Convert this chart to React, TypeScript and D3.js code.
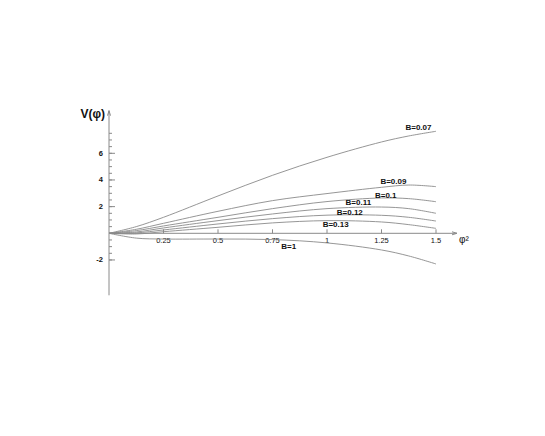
import React from "react";
import * as d3 from "d3";

const phi2 = [0, 0.125, 0.25, 0.5, 0.75, 1.0, 1.25, 1.375, 1.5];
const b007 = [0, 0.5, 1.2, 2.8, 4.35, 5.7, 6.85, 7.3, 7.65];
const b009 = [0, 0.3, 0.75, 1.65, 2.45, 2.98, 3.45, 3.62, 3.5];
const b010 = [0, 0.2, 0.55, 1.2, 1.85, 2.38, 2.65, 2.6, 2.37];
const b011 = [0, 0.1, 0.4, 0.95, 1.45, 1.85, 1.97, 1.85, 1.5];
const b012 = [0, 0.03, 0.25, 0.7, 1.1, 1.36, 1.35, 1.2, 0.92];
const b013 = [0, -0.05, 0.12, 0.45, 0.78, 0.95, 0.85, 0.65, 0.37];
const b1 = [0, -0.36, -0.43, -0.43, -0.47, -0.72, -1.25, -1.7, -2.3];

const seriesLabels = ["B=0.07", "B=0.09", "B=0.1", "B=0.11", "B=0.12", "B=0.13", "B=1"];
const seriesValues = [b007, b009, b010, b011, b012, b013, b1];

const xTicks = [0.25, 0.5, 0.75, 1, 1.25, 1.5];
const xTickLabels = ["0.25", "0.5", "0.75", "1", "1.25", "1.5"];
const yMajor = [-2, 2, 4, 6];
const yMajorLabels = ["-2", "2", "4", "6"];
const yMinor = d3.range(-2, 7.51, 0.5);

// label anchor positions (data coords)
const labelPos = [
  [1.36, 7.75],
  [1.245, 3.72],
  [1.22, 2.65],
  [1.085, 2.1],
  [1.045, 1.38],
  [0.98, 0.48],
  [0.79, -1.18],
];

export default function App() {
  const x = d3.scaleLinear().domain([0, 1.5]).range([109, 436]);
  const y = d3.scaleLinear().domain([0, 6]).range([233.3, 153.3]);
  const line = d3
    .line<number>()
    .x((_, i) => x(phi2[i]))
    .y((d) => y(d))
    .curve(d3.curveCatmullRom.alpha(0.5));
  const gray = "#8a8a8a";
  const font = "Liberation Sans, Arial, sans-serif";
  const x0 = x(0);
  const y0 = y(0);
  return (
    <svg width={545} height={436} style={{ position: "absolute", left: 0, top: 0 }}>
      <rect width={545} height={436} fill="#fff" />
      <line x1={x0} x2={x0} y1={y(-4.65)} y2={y(9.2)} stroke={gray} strokeWidth={1} />
      <path d={`M${x0 - 1.5},${y(9.2) + 5} L${x0},${y(9.2)} L${x0 + 1.5},${y(9.2) + 5}`} fill="none" stroke={gray} />
      <line x1={x0} x2={457} y1={y0} y2={y0} stroke={gray} strokeWidth={1} />
      <path d={`M452,${y0 - 1.5} L457,${y0} L452,${y0 + 1.5}`} fill="none" stroke={gray} />
      {yMinor.map((v) => (
        <line key={"m" + v} x1={x0} x2={x0 + 3} y1={y(v)} y2={y(v)} stroke={gray} />
      ))}
      {yMajor.map((v, i) => (
        <g key={"y" + v}>
          <line x1={x0} x2={x0 + 6} y1={y(v)} y2={y(v)} stroke={gray} />
          <text x={x0 - 6} y={y(v) + 2.5} fontSize={7.5} fontWeight="bold" fontFamily={font} textAnchor="end" fill="#111">
            {yMajorLabels[i]}
          </text>
        </g>
      ))}
      {xTicks.map((v, i) => (
        <g key={"x" + v}>
          <line x1={x(v)} x2={x(v)} y1={y0} y2={y0 - 4} stroke={gray} />
          <text x={x(v)} y={y0 + 10} fontSize={7.5} fontFamily={font} textAnchor="middle" fill="#111">
            {xTickLabels[i]}
          </text>
        </g>
      ))}
      <text x={105} y={118} fontSize={12} fontWeight="bold" fontFamily={font} textAnchor="end" fill="#111">
        V(φ)
      </text>
      <text x={459} y={243} fontSize={10} fontFamily={font} fill="#111">
        φ²
      </text>
      {seriesValues.map((s, i) => (
        <path key={"s" + i} d={line(s) || ""} fill="none" stroke={gray} strokeWidth={0.9} />
      ))}
      {seriesLabels.map((t, i) => (
        <text key={"l" + i} x={x(labelPos[i][0])} y={y(labelPos[i][1])} fontSize={8} fontWeight="bold" fontFamily={font} fill="#111">
          {t}
        </text>
      ))}
    </svg>
  );
}
